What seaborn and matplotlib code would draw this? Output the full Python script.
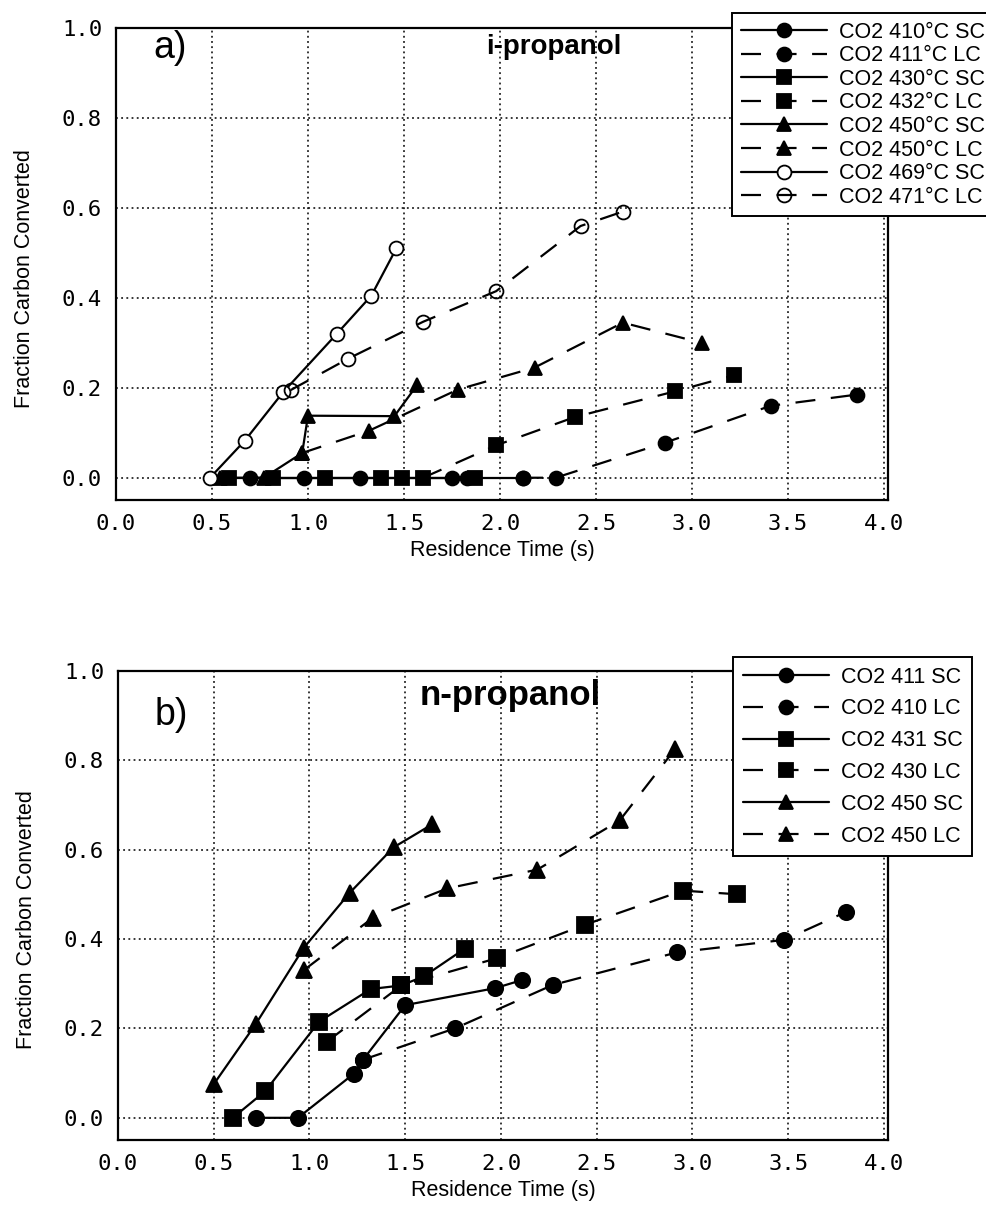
import matplotlib
matplotlib.use("Agg")
import matplotlib.pyplot as plt
import seaborn as sns

# ---- data: panel a (i-propanol) ----
a_410_sc_t = [0.70, 0.98, 1.27, 1.75, 1.83, 2.12]
a_410_sc_f = [0.0, 0.0, 0.0, 0.0, 0.0, 0.0]
a_411_lc_t = [2.12, 2.29, 2.86, 3.41, 3.86]
a_411_lc_f = [0.0, 0.0, 0.078, 0.160, 0.185]
a_430_sc_t = [0.59, 0.82, 1.09, 1.38, 1.49, 1.87]
a_430_sc_f = [0.0, 0.0, 0.0, 0.0, 0.0, 0.0]
a_432_lc_t = [1.60, 1.98, 2.39, 2.91, 3.22]
a_432_lc_f = [0.0, 0.072, 0.135, 0.192, 0.228]
a_450_sc_t = [0.54, 0.77, 0.97, 1.00, 1.45, 1.57]
a_450_sc_f = [0.0, 0.0, 0.055, 0.138, 0.137, 0.207]
a_450_lc_t = [0.97, 1.32, 1.78, 2.18, 2.64, 3.05]
a_450_lc_f = [0.055, 0.105, 0.196, 0.245, 0.345, 0.300]
a_469_sc_t = [0.49, 0.67, 0.87, 1.15, 1.33, 1.46]
a_469_sc_f = [0.0, 0.082, 0.190, 0.320, 0.405, 0.510]
a_471_lc_t = [0.91, 1.21, 1.60, 1.98, 2.42, 2.64]
a_471_lc_f = [0.195, 0.265, 0.347, 0.415, 0.560, 0.592]

# ---- data: panel b (n-propanol) ----
b_411_sc_t = [0.72, 0.94, 1.23, 1.28, 1.50, 1.97, 2.11]
b_411_sc_f = [0.0, 0.0, 0.098, 0.130, 0.252, 0.290, 0.308]
b_410_lc_t = [1.28, 1.76, 2.27, 2.92, 3.48, 3.80]
b_410_lc_f = [0.130, 0.200, 0.297, 0.370, 0.398, 0.460]
b_431_sc_t = [0.60, 0.77, 1.05, 1.32, 1.48, 1.60, 1.81]
b_431_sc_f = [0.0, 0.060, 0.215, 0.288, 0.296, 0.317, 0.378]
b_430_lc_t = [1.09, 1.48, 1.98, 2.44, 2.95, 3.23]
b_430_lc_f = [0.170, 0.296, 0.357, 0.432, 0.508, 0.500]
b_450_sc_t = [0.50, 0.72, 0.97, 1.21, 1.44, 1.64]
b_450_sc_f = [0.075, 0.210, 0.380, 0.503, 0.605, 0.656]
b_450_lc_t = [0.97, 1.33, 1.72, 2.19, 2.62, 2.91]
b_450_lc_f = [0.330, 0.447, 0.513, 0.555, 0.665, 0.825]

x_ticks = [0.0, 0.5, 1.0, 1.5, 2.0, 2.5, 3.0, 3.5, 4.0]
y_ticks = [0.0, 0.2, 0.4, 0.6, 0.8, 1.0]

sns.set_style("white")
plt.rcParams["font.family"] = ["Liberation Sans", "DejaVu Sans"]
plt.rcParams["text.color"] = "black"
plt.rcParams["axes.labelcolor"] = "black"
plt.rcParams["xtick.color"] = "black"
plt.rcParams["ytick.color"] = "black"

SOLID = "-"
DASH = (0, (9, 7))

panel_a = [
    (a_410_sc_t, a_410_sc_f, "o", "black", SOLID, "CO2 410°C SC"),
    (a_411_lc_t, a_411_lc_f, "o", "black", DASH, "CO2 411°C LC"),
    (a_430_sc_t, a_430_sc_f, "s", "black", SOLID, "CO2 430°C SC"),
    (a_432_lc_t, a_432_lc_f, "s", "black", DASH, "CO2 432°C LC"),
    (a_450_sc_t, a_450_sc_f, "^", "black", SOLID, "CO2 450°C SC"),
    (a_450_lc_t, a_450_lc_f, "^", "black", DASH, "CO2 450°C LC"),
    (a_469_sc_t, a_469_sc_f, "o", "white", SOLID, "CO2 469°C SC"),
    (a_471_lc_t, a_471_lc_f, "o", "none", DASH, "CO2 471°C LC"),
]
panel_b = [
    (b_411_sc_t, b_411_sc_f, "o", "black", SOLID, "CO2 411 SC"),
    (b_410_lc_t, b_410_lc_f, "o", "black", DASH, "CO2 410 LC"),
    (b_431_sc_t, b_431_sc_f, "s", "black", SOLID, "CO2 431 SC"),
    (b_430_lc_t, b_430_lc_f, "s", "black", DASH, "CO2 430 LC"),
    (b_450_sc_t, b_450_sc_f, "^", "black", SOLID, "CO2 450 SC"),
    (b_450_lc_t, b_450_lc_f, "^", "black", DASH, "CO2 450 LC"),
]

fig = plt.figure(figsize=(9.87, 12.26), dpi=100)
ax_a = fig.add_axes([0.1175, 0.592, 0.782, 0.385])
ax_b = fig.add_axes([0.1195, 0.070, 0.780, 0.383])

tick_font = dict(family="DejaVu Sans Mono", size=16)


def draw_panel(ax, series, msize):
    for t, f, mk, face, ls, lab in series:
        sns.lineplot(x=t, y=f, ax=ax, color="black", marker=mk,
                     markersize=msize, markerfacecolor=face,
                     markeredgecolor="black", markeredgewidth=1.3,
                     linestyle=ls, linewidth=1.6, sort=False,
                     estimator=None, label=lab, legend=False)
    ax.set_xlim(0.0, 4.02)
    ax.set_ylim(-0.05, 1.0)
    ax.set_xticks(x_ticks)
    ax.set_yticks(y_ticks)
    ax.set_xticklabels([f"{v:.1f}" for v in x_ticks], fontdict=tick_font)
    ax.set_yticklabels([f"{v:.1f}" for v in y_ticks], fontdict=tick_font)
    ax.grid(True, color="black", linestyle=(0, (1.2, 2.2)), linewidth=1.1)
    ax.set_axisbelow(True)
    for s in ax.spines.values():
        s.set_visible(True)
        s.set_color("black")
        s.set_linewidth(1.6)
    ax.tick_params(axis="both", direction="out", length=6, width=1.2,
                   color="black", pad=4, labelcolor="black")
    ax.set_xlabel("Residence Time (s)", fontsize=15.5, color="black")
    ax.set_ylabel("Fraction Carbon Converted", fontsize=15.5, color="black")
    ax.xaxis.set_label_coords(0.5, -0.085)
    ax.yaxis.set_label_coords(-0.105, 0.47)


draw_panel(ax_a, panel_a, 10)
draw_panel(ax_b, panel_b, 11)

ax_a.text(0.28, 0.955, "a)", fontsize=27, ha="center", va="center")
ax_a.text(2.28, 0.958, "i-propanol", fontsize=20, fontweight="bold",
          ha="center", va="center")
ax_b.text(0.28, 0.90, "b)", fontsize=27, ha="center", va="center")
ax_b.text(2.05, 0.945, "n-propanol", fontsize=25, fontweight="bold",
          ha="center", va="center")

leg_kw = dict(loc="upper left", bbox_transform=fig.transFigure,
              frameon=True, fancybox=False, shadow=False,
              edgecolor="black", framealpha=1.0, handlelength=4.0,
              handletextpad=0.55, borderaxespad=0.0)
leg_a = ax_a.legend(bbox_to_anchor=(0.7416, 0.9894), fontsize=15.5,
                    labelspacing=0.12, borderpad=0.4, **leg_kw)
leg_b = ax_b.legend(bbox_to_anchor=(0.7427, 0.4641), fontsize=15.5,
                    labelspacing=0.5, borderpad=0.45, **leg_kw)
for leg in (leg_a, leg_b):
    leg.get_frame().set_linewidth(1.4)
    for h in leg.legend_handles:
        h.set_markersize(10)

fig.savefig("out.png", dpi=100, facecolor="white")
